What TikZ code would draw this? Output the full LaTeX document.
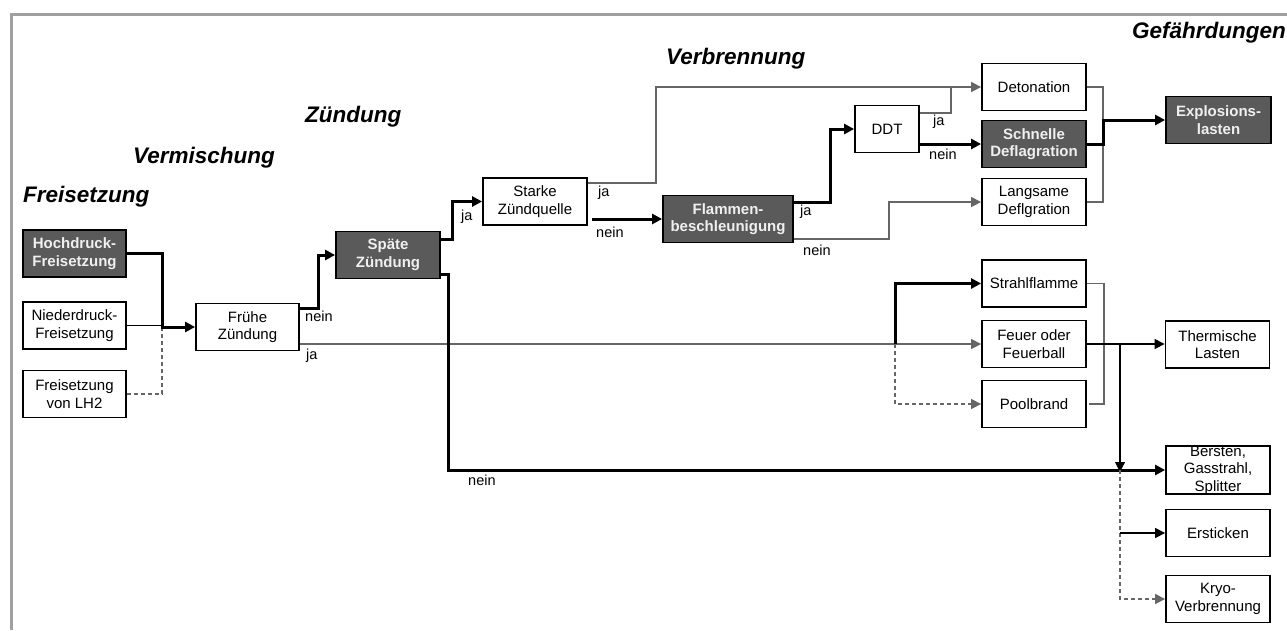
\documentclass[tikz,border=0pt]{standalone}
\usepackage{fontspec}
\setmainfont{Liberation Sans}
\usetikzlibrary{arrows.meta,calc}
\definecolor{darkbox}{HTML}{5A5A5A}
\definecolor{frame}{HTML}{A0A0A0}
\definecolor{lgray}{HTML}{666666}
\tikzset{
  box/.style={draw=black, line width=1.8pt, fill=white, minimum width=103pt, minimum height=47pt,
    inner sep=0pt, align=center, font=\fontsize{15}{17.5}\selectfont},
  dbox/.style={box, fill=darkbox, text=white!94!black, font=\fontsize{15}{17.5}\selectfont\bfseries},
  phase/.style={font=\fontsize{22.5}{26}\selectfont\bfseries\itshape, inner sep=0pt},
  lbl/.style={font=\fontsize{14.5}{16}\selectfont, inner sep=0pt},
  arr/.style={-{Triangle[length=10pt,width=10pt]}},
  thk/.style={line width=3pt, black},
  thn/.style={line width=1.1pt, black},
  gr/.style={line width=1.3pt, lgray},
  dsh/.style={line width=1.3pt, lgray, dash pattern=on 4pt off 3pt},
}
\begin{document}
\begin{tikzpicture}[x=1pt,y=-1pt]
\useasboundingbox (0,0) rectangle (1287,630);
\fill[white] (0,0) rectangle (1287,630);
% frame
\draw[frame, line width=3.5pt] (11.5,630) -- (11.5,14.5) -- (1287,14.5);

% phase titles
\node[phase, anchor=west] (tfrei) at (23,197) {Freisetzung};
\node[phase, anchor=west] (tverm) at (133,158) {Vermischung};
\node[phase, anchor=west] (tzuend) at (305,117) {Zündung};
\node[phase, anchor=west] (tverb) at (666,59) {Verbrennung};
\node[phase, anchor=east] (tgef) at (1286,33) {Gefährdungen};

% boxes
\node[dbox] (hoch) at (74.5,253.5) {Hochdruck-\\Freisetzung};
\node[box] (nied) at (74.5,325.5) {Niederdruck-\\Freisetzung};
\node[box] (lh2) at (74.5,394) {Freisetzung\\von LH2};
\node[box] (frueh) at (247.5,327) {Frühe\\Zündung};
\node[dbox, minimum width=104pt] (spaet) at (388,255) {Späte\\Zündung};
\node[box, minimum width=104pt] (starke) at (535,201.5) {Starke\\Zündquelle};
\node[dbox, minimum width=130pt] (flamm) at (728,219) {Flammen-\\beschleunigung};
\node[box, minimum width=64pt] (ddt) at (887,129) {DDT};
\node[box, minimum width=104pt] (deto) at (1034,87) {Detonation};
\node[dbox, minimum width=104pt] (schnell) at (1034,144) {Schnelle\\Deflagration};
\node[box, minimum width=104pt] (langsam) at (1034,202) {Langsame\\Deflgration};
\node[dbox, minimum width=105pt] (explo) at (1218.5,120) {Explosions-\\lasten};
\node[box, minimum width=104pt] (strahl) at (1034,283.5) {Strahlflamme};
\node[box, minimum width=104pt] (feuer) at (1034,344) {Feuer oder\\Feuerball};
\node[box, minimum width=104pt] (pool) at (1034,404) {Poolbrand};
\node[box, minimum width=104pt] (therm) at (1217.5,344.5) {Thermische\\Lasten};
\node[box, minimum width=104pt] (bersten) at (1218,470) {Bersten,\\Gasstrahl,\\Splitter};
\node[box, minimum width=104pt] (erst) at (1218,533) {Ersticken};
\node[box, minimum width=104pt] (kryo) at (1218,599) {Kryo-\\Verbrennung};

% junctions
\coordinate (j1) at (162,327);
\coordinate (j2) at (895,344);
\coordinate (j4) at (1120,344);

% release -> early ignition
\draw[dsh] (lh2.east) -| (j1);
\draw[thn] (nied.east) -- (nied.east -| j1);
\draw[thk,arr] (hoch.east) -| (j1) -- (frueh.west);

% early ignition
\draw[thk,arr] ([yshift=19pt]frueh.east) -- ++(19,0) |- (spaet.west);
\node[lbl, anchor=west] (lnein1) at (305,316) {nein};
\draw[gr,arr] (frueh.east |- feuer.west) -- (feuer.west);
\node[lbl, anchor=west] (lja1) at (306,356) {ja};
\draw[thk,arr] (j2) |- (strahl.west);
\draw[dsh,arr] (j2) |- (pool.west);

% late ignition
\draw[thk,arr] ([yshift=16pt]spaet.east) -- ++(12,0) |- (starke.west);
\node[lbl, anchor=west] (lja2) at (461,217) {ja};
\draw[thk,arr] ([yshift=-19pt]spaet.east) -- ++(8,0) |- (bersten.west);
\node[lbl, anchor=west] (lnein2) at (468,480) {nein};

% strong ignition source
\draw[gr,arr] ([yshift=18.5pt]starke.east) -- ++(68,0) |- (deto.west);
\node[lbl, anchor=west] (lja3) at (598,193) {ja};
\draw[thk,arr] ($(starke.east |- flamm.west)+(4,0)$) -- (flamm.west);
\node[lbl, anchor=west] (lnein3) at (596,232) {nein};

% flame acceleration
\draw[thk,arr] ([yshift=17pt]flamm.east) -- ++(37,0) |- (ddt.west);
\node[lbl, anchor=west] (lja4) at (800,212) {ja};
\draw[gr,arr] ([yshift=-20pt]flamm.east) -- ++(95,0) |- (langsam.west);
\node[lbl, anchor=west] (lnein4) at (803,250) {nein};

% DDT
\draw[gr] ([yshift=16pt]ddt.east) -| ($(deto.west)+(-30,0)$);
\node[lbl, anchor=west] (lja5) at (933,122) {ja};
\draw[thk,arr] (ddt.east |- schnell.west) -- (schnell.west);
\node[lbl, anchor=west] (lnein5) at (929,154) {nein};

% explosion loads
\draw[gr] (deto.east) -- ++(16,0) |- (langsam.east);
\draw[thk,arr] (schnell.east) -- ++(17,0) |- (explo.west);

% thermal loads
\draw[gr] (strahl.east) -- ++(17,0) |- ($(pool.east)+(2,0)$);
\draw[thn,arr] (feuer.east) -- (feuer.east -| therm.west);
\draw[thn,arr] (j4) -- ($(j4 |- bersten.west)+(0,2)$);
\draw[dsh,arr] (j4 |- bersten.west) |- (kryo.west);
\draw[thn,arr] (j4 |- erst.west) -- (erst.west);
\end{tikzpicture}
\end{document}
